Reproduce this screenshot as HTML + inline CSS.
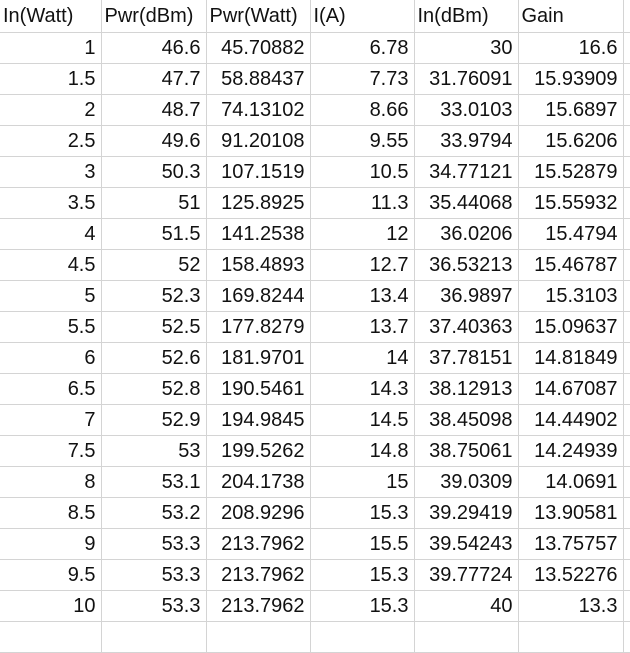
<!DOCTYPE html>
<html><head><meta charset="utf-8"><style>
body{margin:0;background:#fff;width:630px;height:631px;overflow:hidden}
table{border-collapse:collapse;position:absolute;left:0;top:0;table-layout:fixed;width:643px;font-family:"Liberation Sans",sans-serif;font-size:20px;color:#111}
td{border:1px solid #d4d4d4;height:31px;padding:0 5px 0 3px;text-align:right;white-space:nowrap;overflow:hidden;line-height:30px;box-sizing:border-box}
tr:first-child td{text-align:left;height:32px;border-top:none}
td:first-child{border-left:none}
</style></head><body>
<table>
<colgroup><col style="width:101px"><col style="width:105px"><col style="width:104px"><col style="width:104px"><col style="width:104px"><col style="width:105px"><col style="width:20px"></colgroup>
<tbody id="tb"></tbody></table>
<script>
const headers=["In(Watt)","Pwr(dBm)","Pwr(Watt)","I(A)","In(dBm)","Gain",""];
const rows=[
["1","46.6","45.70882","6.78","30","16.6"],
["1.5","47.7","58.88437","7.73","31.76091","15.93909"],
["2","48.7","74.13102","8.66","33.0103","15.6897"],
["2.5","49.6","91.20108","9.55","33.9794","15.6206"],
["3","50.3","107.1519","10.5","34.77121","15.52879"],
["3.5","51","125.8925","11.3","35.44068","15.55932"],
["4","51.5","141.2538","12","36.0206","15.4794"],
["4.5","52","158.4893","12.7","36.53213","15.46787"],
["5","52.3","169.8244","13.4","36.9897","15.3103"],
["5.5","52.5","177.8279","13.7","37.40363","15.09637"],
["6","52.6","181.9701","14","37.78151","14.81849"],
["6.5","52.8","190.5461","14.3","38.12913","14.67087"],
["7","52.9","194.9845","14.5","38.45098","14.44902"],
["7.5","53","199.5262","14.8","38.75061","14.24939"],
["8","53.1","204.1738","15","39.0309","14.0691"],
["8.5","53.2","208.9296","15.3","39.29419","13.90581"],
["9","53.3","213.7962","15.5","39.54243","13.75757"],
["9.5","53.3","213.7962","15.3","39.77724","13.52276"],
["10","53.3","213.7962","15.3","40","13.3"],
["","","","","",""]];
const tb=document.getElementById('tb');
function addRow(vals,i){
 const tr=document.createElement('tr');
 
 
 vals.forEach((v,j)=>{const td=document.createElement('td');td.textContent=v;
  
  
  tr.appendChild(td);});
 if(vals.length<7){const td=document.createElement('td');
  
  
  tr.appendChild(td);}
 tb.appendChild(tr);}
addRow(headers,-1);
rows.forEach((r,i)=>addRow(r,i));
</script>
</body></html>
